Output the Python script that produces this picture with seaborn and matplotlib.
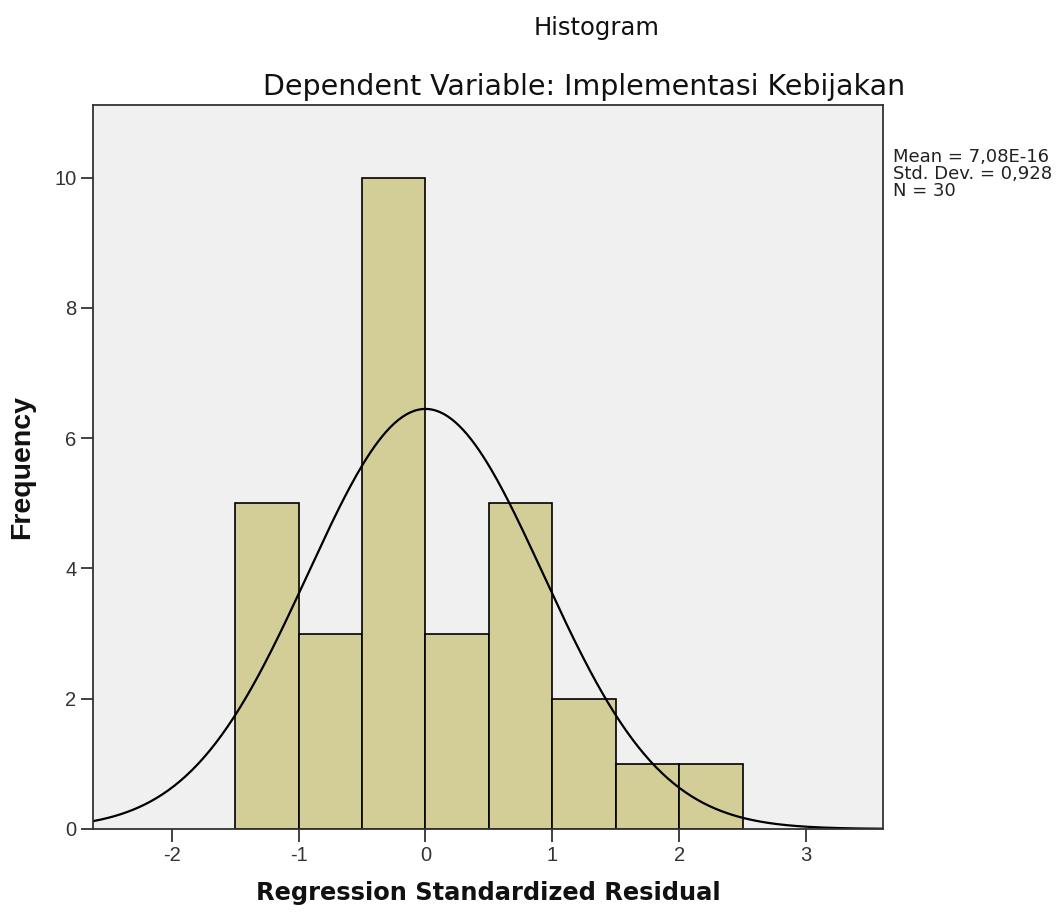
import numpy as np
import pandas as pd
import matplotlib
matplotlib.use("Agg")
import matplotlib.pyplot as plt
import seaborn as sns

# Data
bin_edges = [-1.5, -1.0, -0.5, 0.0, 0.5, 1.0, 1.5, 2.0, 2.5]
counts = [5, 3, 10, 3, 5, 2, 1, 1]
mean_val = 7.08e-16
std_val = 0.928
n_total = 30
x_ticks = [-2, -1, 0, 1, 2, 3]
y_ticks = [0, 2, 4, 6, 8, 10]

sns.set_theme(style="white")
plt.rcParams['font.family'] = ['Liberation Sans', 'DejaVu Sans']

fig = plt.figure(figsize=(10.61, 9.18), dpi=100)
ax = fig.add_axes([0.0877, 0.097, 0.745, 0.789])
ax.set_facecolor("#f0f0f0")

centers = [(bin_edges[i] + bin_edges[i + 1]) / 2 for i in range(len(counts))]
df = pd.DataFrame({"resid": centers, "count": counts})
sns.histplot(data=df, x="resid", weights="count", bins=bin_edges, ax=ax,
             color="#d3ce97", edgecolor="black", linewidth=1.2, alpha=1.0)

# Fitted normal curve
xmin, xmax = -2.62, 3.61
xs = np.linspace(xmin, xmax, 400)
binw = bin_edges[1] - bin_edges[0]
ys = n_total * binw / (std_val * np.sqrt(2 * np.pi)) * np.exp(-0.5 * ((xs - mean_val) / std_val) ** 2)
sns.lineplot(x=xs, y=ys, ax=ax, color="black", linewidth=1.6)

ax.set_xlim(xmin, xmax)
ax.set_ylim(0, 11.12)
ax.set_xticks(x_ticks)
ax.set_yticks(y_ticks)
ax.set_xticklabels([str(t) for t in x_ticks])
ax.set_yticklabels([str(t) for t in y_ticks])
ax.tick_params(axis="both", direction="out", length=9, width=1.3, color="#333333",
               labelsize=14.5, labelcolor="#333333", bottom=True, left=True, pad=3)
for s in ax.spines.values():
    s.set_color("#333333")
    s.set_linewidth(1.3)

ax.set_xlabel("Regression Standardized Residual", fontsize=17.4, fontweight="bold",
              family="DejaVu Sans", va="center", color="#111111")
ax.xaxis.set_label_coords(0.5, -0.088)
ax.set_ylabel("Frequency", fontsize=20.5, fontweight="bold", va="center", color="#111111")
ax.yaxis.set_label_coords(-0.09, 0.5)

fig.text(0.562, 0.9695, "Histogram", ha="center", va="center", fontsize=17.5,
         family="DejaVu Sans", color="#111111")
fig.text(0.5504, 0.905, "Dependent Variable: Implementasi Kebijakan", ha="center", va="center",
         fontsize=20.5, family="DejaVu Sans", color="#111111")
fig.text(0.842, 0.839, "Mean = 7,08E-16\nStd. Dev. = 0,928\nN = 30", ha="left", va="top",
         fontsize=13, family="DejaVu Sans", color="#222222", linespacing=0.95)

fig.savefig("out.png", dpi=100)
